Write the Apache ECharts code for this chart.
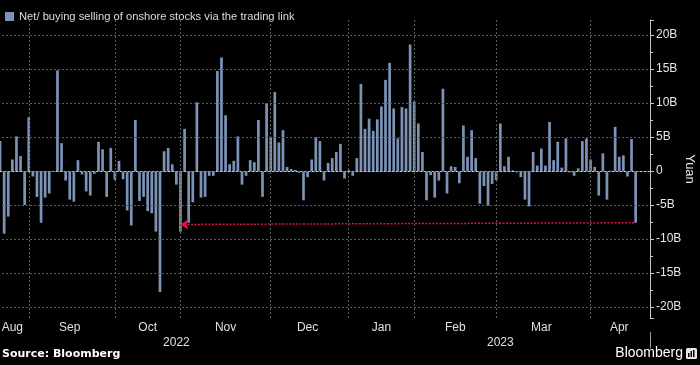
<!DOCTYPE html>
<html>
<head>
<meta charset="utf-8">
<script src="https://cdn.jsdelivr.net/npm/echarts@6/dist/echarts.min.js"></script>
<style>
html,body{margin:0;padding:0;background:#000;}
#chart{width:700px;height:365px;}
</style>
</head>
<body>
<div id="chart"></div>
<script>
// ---- data ----
const seriesName = 'Net/ buying selling of onshore stocks via the trading link';
const months = ['Aug','Sep','Oct','Nov','Dec','Jan','Feb','Mar','Apr'];
const monthYears = ['2022','2022','2022','2022','2022','2023','2023','2023','2023'];
const tradingDays = [7,21,16,22,19,16,20,23,15];
const years = ['2022','2023'];
const yTicks = [-20,-15,-10,-5,0,5,10,15,20];
// net flows, billion yuan, one per trading day (Aug 2022 - Apr 2023)
const flows = [
 4.4,-9.2,-6.7,1.7,5.1,2.2,-5.0,
 7.9,-0.8,-3.8,-7.6,-3.9,-3.3,-0.1,14.8,4.1,-1.4,-4.2,-4.5,1.6,-0.5,-3.0,-3.6,-0.4,4.3,3.2,-3.8,3.4,
 -1.3,1.5,-1.2,-5.8,-8.0,7.5,-4.4,-3.8,-5.9,-6.2,-8.9,-17.8,2.9,3.4,1.0,-2.0,
 -8.9,6.2,-7.6,-4.6,10.1,-3.9,-3.8,-0.7,-0.7,14.7,16.7,8.2,1.0,1.5,5.1,-2.0,-0.7,1.6,1.3,7.5,-3.8,10.0,
 5.0,11.6,4.2,6.0,0.6,0.3,0.15,-0.25,-4.3,-0.9,1.7,5.0,4.4,-1.4,1.2,1.9,2.8,4.0,-1.1,
 0.1,-0.7,1.9,12.8,6.2,7.7,5.9,7.6,9.5,13.4,15.9,9.2,4.8,9.4,9.2,18.6,
 10.2,7.0,2.8,-4.3,-0.6,-3.9,-1.4,12.1,-3.3,0.7,0.6,-1.8,6.7,2.1,6.0,1.9,-4.8,-2.2,-5.1,-1.9,
 -1.3,7.0,0.7,2.1,0.1,-0.2,-0.9,-4.2,-5.2,2.8,0.8,3.3,0.8,7.2,1.6,4.3,0.5,4.8,-0.2,-0.7,0.4,4.4,4.8,
 1.7,0.6,-3.6,2.6,-4.2,0.05,6.5,2.1,2.3,-0.8,4.7,-7.6
];
// red reference line: from the October low marker to the latest reading
const refLineStart = { idx: 44, value: -7.85 };
const refLineEnd = { idx: 155, value: -7.6 };

// ---- build categories ----
const categories = [];
const monthStart = [];
const monthLabelIdx = {};
months.forEach((m, i) => {
  monthStart.push(categories.length);
  monthLabelIdx[categories.length + Math.floor(tradingDays[i] / 2)] = m;
  for (let d = 0; d < tradingDays[i]; d++) categories.push(m + ' ' + monthYears[i] + ' #' + d);
});
const yearFirst = {};
const yearLabelIdx = {};
years.forEach(y => {
  const idxs = categories.map((c, i) => c.indexOf(' ' + y + ' ') >= 0 ? i : -1).filter(i => i >= 0);
  yearFirst[idxs[0]] = y;
  yearLabelIdx[Math.round((idxs[0] + idxs[idxs.length - 1] + 1) / 2)] = y;
});
const barData = categories.map((c, i) => i < flows.length ? flows[i] : '-');

const gridStyle = { color: '#5c5c5c', type: [2, 2], width: 1 };
const gridLines = [];
monthStart.slice(1).forEach(i => gridLines.push({ xAxis: categories[i], lineStyle: gridStyle }));
yTicks.forEach(v => gridLines.push({ yAxis: v, lineStyle: gridStyle }));

const chart = echarts.init(document.getElementById('chart'), null, { renderer: 'canvas' });
const fontFamily = "'Liberation Sans', Arial, sans-serif";
chart.setOption({
  backgroundColor: '#000',
  animation: false,
  textStyle: { fontFamily },
  legend: {
    show: true, left: 0, top: 6, data: [seriesName],
    icon: 'rect', itemWidth: 9, itemHeight: 9, itemGap: 5,
    textStyle: { color: '#dcdcdc', fontSize: 11.2, fontFamily }
  },
  grid: { left: -2, right: 50, top: 20, bottom: 47, containLabel: false, outerBoundsMode: 'none' },
  xAxis: [{
    type: 'category', data: categories, boundaryGap: true,
    axisLine: { show: true, lineStyle: { color: '#c8c8c8', width: 1 } },
    axisTick: { show: false },
    splitLine: { show: false },
    axisLabel: {
      interval: (i) => monthLabelIdx[i] !== undefined,
      formatter: (v, i) => monthLabelIdx[i] || '',
      color: '#e0e0e0', fontSize: 12, margin: 4, fontFamily
    }
  }, {
    type: 'category', data: categories, boundaryGap: true, position: 'bottom', offset: 14,
    axisLine: { show: false },
    axisTick: { show: true, interval: (i) => yearFirst[i] !== undefined && i > 0, length: 16, lineStyle: { color: '#9a9a9a' } },
    splitLine: { show: false },
    axisLabel: {
      interval: (i) => yearLabelIdx[i] !== undefined,
      formatter: (v, i) => yearLabelIdx[i] || '',
      color: '#e0e0e0', fontSize: 12, margin: 5, fontFamily
    }
  }],
  yAxis: {
    type: 'value', position: 'right', min: -21.6, max: 22.2, splitNumber: 8,
    axisLine: { show: true, lineStyle: { color: '#c8c8c8' } },
    axisTick: { show: true, length: 4, lineStyle: { color: '#c8c8c8' } },
    minorTick: { show: true, splitNumber: 2, length: 3, lineStyle: { color: '#c8c8c8' } },
    splitLine: { show: false },
    axisLabel: {
      showMinLabel: false, showMaxLabel: false,
      color: '#e6e6e6', fontSize: 12, margin: 6, fontFamily,
      formatter: (v) => v === 0 ? '0' : v + 'B'
    },
    name: 'Yuan', nameLocation: 'middle', nameRotate: -90, nameGap: 33, nameMoveOverlap: false,
    nameTextStyle: { color: '#e6e6e6', fontSize: 13, fontFamily }
  },
  series: [{
    name: seriesName, type: 'bar', data: barData, barWidth: 2.7,
    itemStyle: { color: '#7c93b7' },
    markLine: { silent: true, symbol: 'none', label: { show: false }, data: gridLines, animation: false }
  }, {
    name: 'ref', type: 'line', data: [], silent: true,
    markLine: {
      silent: true, symbol: ['arrow', 'none'], symbolSize: 8, label: { show: false },
      lineStyle: { color: '#e0103c', type: [2, 1.5], width: 1.5 },
      data: [[{ coord: [categories[refLineStart.idx], refLineStart.value] },
              { coord: [categories[refLineEnd.idx], refLineEnd.value] }]]
    }
  }],
  graphic: [
    { type: 'text', left: 2, top: 349, style: { text: 'Source: Bloomberg', fill: '#ffffff', font: "bold 11px 'DejaVu Sans', sans-serif" } },
    { type: 'text', right: 17, top: 346, style: { text: 'Bloomberg', fill: '#ffffff', font: "500 14px " + fontFamily } },
    { type: 'group', right: 3, top: 348, children: [
      { type: 'rect', shape: { x: 0, y: 0, width: 11, height: 11, r: 1.5 }, style: { fill: '#e8e8e8' } },
      { type: 'rect', shape: { x: 2, y: 5, width: 1.5, height: 4 }, style: { fill: '#000' } },
      { type: 'rect', shape: { x: 4.5, y: 3, width: 1.5, height: 6 }, style: { fill: '#000' } },
      { type: 'rect', shape: { x: 7, y: 2, width: 1.5, height: 7 }, style: { fill: '#000' } }
    ]}
  ]
});
</script>
</body>
</html>
